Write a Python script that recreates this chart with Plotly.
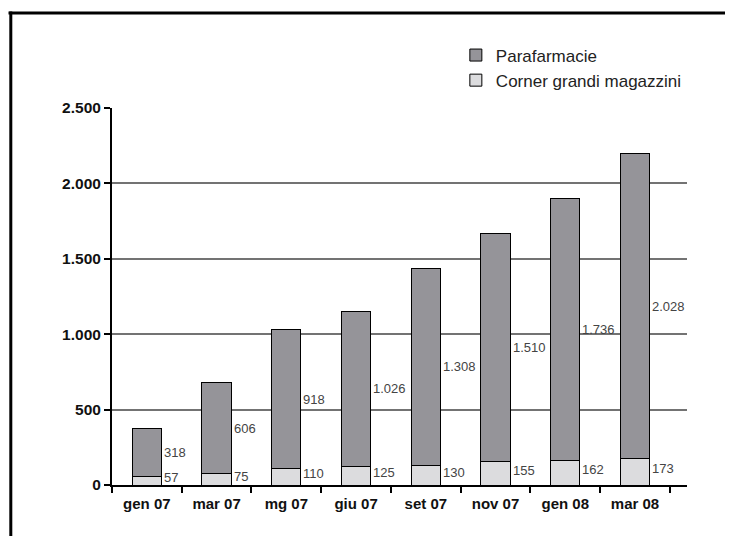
import plotly.graph_objects as go

mesi = ["gen 07", "mar 07", "mg 07", "giu 07", "set 07", "nov 07", "gen 08", "mar 08"]
corner = [57, 75, 110, 125, 130, 155, 162, 173]
parafarmacie = [318, 606, 918, 1026, 1308, 1510, 1736, 2028]
y_ticks = [0, 500, 1000, 1500, 2000, 2500]


def it_num(v):
    # separatore delle migliaia all'italiana
    return f"{v:,}".replace(",", ".")


fig = go.Figure()
fig.add_trace(go.Bar(
    x=mesi, y=corner, name="Corner grandi magazzini", legendgroup="b",
    marker=dict(color="#dcdcde", line=dict(color="#000000", width=1)),
    width=0.42,
))
fig.add_trace(go.Bar(
    x=mesi, y=parafarmacie, name="Parafarmacie", legendgroup="a",
    marker=dict(color="#959499", line=dict(color="#000000", width=1)),
    width=0.42,
))

# etichette a destra delle barre
for m, c, p in zip(mesi, corner, parafarmacie):
    fig.add_annotation(x=m, y=c / 2, text=it_num(c), xref="x", yref="y",
                       xanchor="left", yanchor="middle", xshift=15, yshift=3,
                       showarrow=False, font=dict(size=13, color="#444444"))
    fig.add_annotation(x=m, y=c + p / 2, text=it_num(p), xref="x", yref="y",
                       xanchor="left", yanchor="middle", xshift=15,
                       showarrow=False, font=dict(size=13, color="#444444"))

# cornice (solo lati sinistro e superiore visibili)
fig.add_shape(type="line", xref="paper", yref="paper",
              x0=-0.176, x1=-0.176, y0=-0.5, y1=1.256,
              line=dict(color="#000000", width=3), layer="above")
fig.add_shape(type="line", xref="paper", yref="paper",
              x0=-0.18, x1=1.5, y0=1.252, y1=1.252,
              line=dict(color="#000000", width=3), layer="above")

fig.update_layout(
    width=725, height=528,
    barmode="stack",
    separators=",.",
    paper_bgcolor="white", plot_bgcolor="white",
    font=dict(family="Liberation Sans, Arial, sans-serif", color="#111111"),
    margin=dict(l=104, r=46, t=100, b=51),
    legend=dict(x=0.598, y=1.187, xanchor="left", yanchor="top",
                traceorder="reversed", tracegroupgap=4,
                font=dict(size=17, color="#222222"), bgcolor="rgba(0,0,0,0)"),
)
fig.update_xaxes(
    showline=True, linecolor="#000000", linewidth=2,
    ticks="outside", tickson="boundaries", ticklen=6, tickwidth=2, tickcolor="#000000",
    tickfont=dict(size=15, color="#111111", weight="bold"),
    ticklabelstandoff=4,
)
fig.update_yaxes(
    range=[0, 2500], tickvals=y_ticks, tickformat=",d",
    showline=True, linecolor="#000000", linewidth=2,
    ticks="outside", ticklen=6, tickwidth=2, tickcolor="#000000",
    showgrid=True, gridcolor="#737373", gridwidth=1.5, zeroline=False,
    tickfont=dict(size=15.5, color="#111111", weight="bold"),
)

fig.write_html("out.html")
